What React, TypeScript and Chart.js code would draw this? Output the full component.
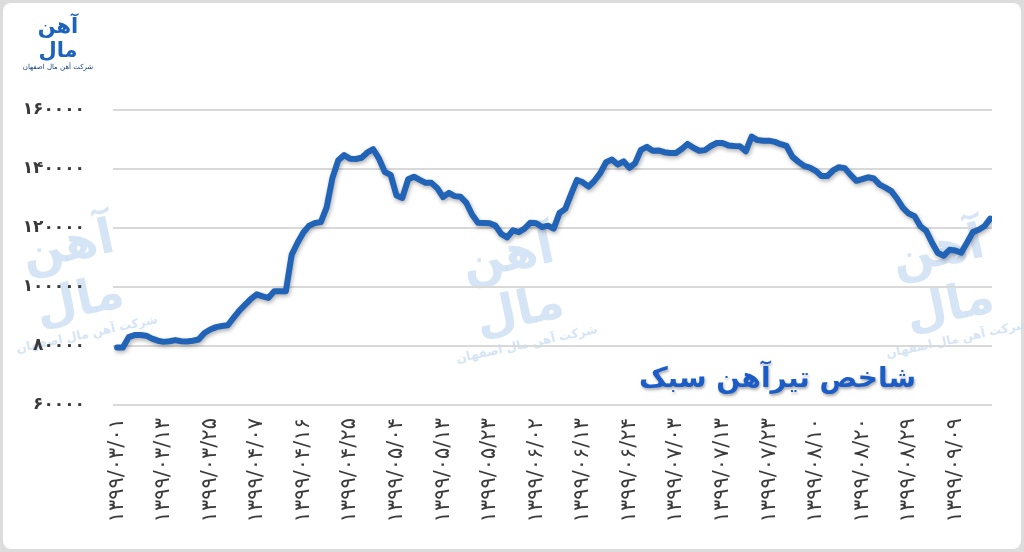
import React, { useEffect, useRef } from "react";
import { Chart, registerables } from "chart.js";

Chart.register(...registerables);

// Tick labels on the date axis (one every 8 trading days)
const tickLabels: string[] = [
  "۱۳۹۹/۰۳/۰۱", "۱۳۹۹/۰۳/۱۳", "۱۳۹۹/۰۳/۲۵", "۱۳۹۹/۰۴/۰۷", "۱۳۹۹/۰۴/۱۶",
  "۱۳۹۹/۰۴/۲۵", "۱۳۹۹/۰۵/۰۴", "۱۳۹۹/۰۵/۱۳", "۱۳۹۹/۰۵/۲۳", "۱۳۹۹/۰۶/۰۲",
  "۱۳۹۹/۰۶/۱۳", "۱۳۹۹/۰۶/۲۴", "۱۳۹۹/۰۷/۰۳", "۱۳۹۹/۰۷/۱۳", "۱۳۹۹/۰۷/۲۳",
  "۱۳۹۹/۰۸/۱۰", "۱۳۹۹/۰۸/۲۰", "۱۳۹۹/۰۸/۲۹", "۱۳۹۹/۰۹/۰۹",
];
const daysPerTick = 8;

// Y axis tick values and their Persian labels
const yTickValues: number[] = [60000, 80000, 100000, 120000, 140000, 160000];
const yTickLabels: string[] = ["۶۰۰۰۰", "۸۰۰۰۰", "۱۰۰۰۰۰", "۱۲۰۰۰۰", "۱۴۰۰۰۰", "۱۶۰۰۰۰"];

// Light section steel index, one value per trading day
const indexValues: number[] = [
  79500, 79500, 83000, 83700, 83700, 83500, 82500, 81800, 81400, 81600,
  82000, 81600, 81500, 81800, 82200, 84400, 85600, 86400, 86800, 87000,
  89500, 92000, 94000, 96000, 97500, 96800, 96300, 98600, 98600, 98600,
  111000, 115000, 118500, 120800, 121700, 122000, 127000, 137000, 143000, 144700,
  143500, 143400, 143800, 145600, 146700, 143500, 139000, 138000, 131000, 130200,
  136500, 137400, 136300, 135300, 135300, 133500, 130500, 131900, 130800, 130600,
  128500, 124500, 121800, 121700, 121600, 120800, 118000, 116800, 119200, 118600,
  119800, 121800, 121600, 120300, 120800, 119800, 125100, 126500, 131500, 136300,
  135500, 134000, 136000, 138600, 142300, 143200, 141500, 142600, 140400, 142000,
  146500, 147500, 146200, 146300, 145700, 145400, 145400, 146800, 148500, 147200,
  146200, 146400, 147800, 148800, 148800, 148000, 147800, 147700, 146000, 151000,
  149800, 149600, 149600, 149200, 148400, 147800, 144200, 142500, 141100, 140500,
  139400, 137600, 137600, 139500, 140600, 140300, 138000, 136000, 136600, 137200,
  136800, 134700, 133700, 132500, 129900, 126800, 124900, 124000, 120600, 119000,
  115000, 111500, 110600, 112600, 112400, 111600, 115000, 118600, 119400, 120600,
  123200,
];

const titleText = "شاخص تیرآهن سبک";
const brandText = "آهن مال";
const companyName = "شرکت آهن مال اصفهان";

const lineShadow = {
  id: "lineShadow",
  beforeDatasetDraw(chart: any) {
    const ctx = chart.ctx;
    ctx.save();
    ctx.shadowColor = "rgba(0,0,0,0.32)";
    ctx.shadowBlur = 4;
    ctx.shadowOffsetX = 1;
    ctx.shadowOffsetY = 2;
  },
  afterDatasetDraw(chart: any) {
    chart.ctx.restore();
  },
};

const watermarkStyle = (left: number, top: number): React.CSSProperties => ({
  position: "absolute",
  left,
  top,
  width: 170,
  textAlign: "center",
  direction: "rtl",
  fontFamily: "'DejaVu Sans', sans-serif",
  fontWeight: "bold",
  color: "rgba(200,220,242,0.75)",
  transform: "rotate(-12deg)",
});

export default function App() {
  const canvasRef = useRef<HTMLCanvasElement | null>(null);

  useEffect(() => {
    document.body.style.margin = "0";
    const canvas = canvasRef.current;
    if (!canvas) return;
    const chart = new Chart(canvas, {
      type: "line",
      data: {
        datasets: [
          {
            data: indexValues.map((v, i) => ({ x: i, y: v })),
            borderColor: "#2163b6",
            borderWidth: 6,
            pointRadius: 0,
            tension: 0,
            borderJoinStyle: "round",
            borderCapStyle: "round",
            fill: false,
          },
        ],
      },
      options: {
        responsive: false,
        animation: false,
        devicePixelRatio: 1,
        layout: { padding: { top: 110, right: 32, bottom: 0, left: 0 } },
        plugins: {
          legend: { display: false },
          tooltip: { enabled: false },
          title: { display: false },
        },
        scales: {
          x: {
            type: "linear",
            min: -0.7,
            max: 150.3,
            grid: { display: false, drawTicks: false },
            border: { display: false },
            afterBuildTicks: (scale: any) => {
              scale.ticks = tickLabels.map((_, i) => ({ value: i * daysPerTick }));
            },
            afterFit: (scale: any) => {
              scale.height = 147;
            },
            ticks: {
              autoSkip: false,
              maxRotation: 90,
              minRotation: 90,
              padding: 13,
              color: "#3c3c3c",
              font: { family: "'DejaVu Sans'", size: 21 },
              callback: (v: any) => tickLabels[Math.round(Number(v) / daysPerTick)] ?? "",
            },
          },
          y: {
            min: 60000,
            max: 160000,
            grid: { color: "#d9d9d9", lineWidth: 2, drawTicks: false },
            border: { display: false },
            afterBuildTicks: (scale: any) => {
              scale.ticks = yTickValues.map((value) => ({ value }));
            },
            afterFit: (scale: any) => {
              scale.width = 113;
            },
            ticks: {
              padding: 28,
              color: "#3a3a3a",
              font: { family: "'DejaVu Sans'", size: 17, weight: "bold" },
              callback: (v: any) => yTickLabels[yTickValues.indexOf(Number(v))] ?? "",
            },
          },
        },
      },
      plugins: [lineShadow],
    } as any);
    return () => chart.destroy();
  }, []);

  return (
    <div style={{ position: "relative", width: 1024, height: 552, background: "#dcdcdc", overflow: "hidden" }}>
      <div
        style={{
          position: "absolute",
          left: 3,
          top: 3,
          right: 3,
          bottom: 3,
          background: "#ffffff",
          borderRadius: 8,
        }}
      />
      <div style={watermarkStyle(-10, 215)}>
        <div style={{ fontSize: 48, lineHeight: "56px" }}>{brandText}</div>
        <div style={{ fontSize: 12, lineHeight: "16px" }}>{companyName}</div>
      </div>
      <div style={watermarkStyle(430, 225)}>
        <div style={{ fontSize: 48, lineHeight: "56px" }}>{brandText}</div>
        <div style={{ fontSize: 12, lineHeight: "16px" }}>{companyName}</div>
      </div>
      <div style={watermarkStyle(860, 220)}>
        <div style={{ fontSize: 48, lineHeight: "56px" }}>{brandText}</div>
        <div style={{ fontSize: 12, lineHeight: "16px" }}>{companyName}</div>
      </div>
      <canvas ref={canvasRef} width={1024} height={552} style={{ position: "absolute", left: 0, top: 0 }} />
      <div
        style={{
          position: "absolute",
          left: 18,
          top: 14,
          width: 80,
          textAlign: "center",
          direction: "rtl",
          fontFamily: "'DejaVu Sans', sans-serif",
          color: "#1b63bd",
          fontWeight: "bold",
          whiteSpace: "nowrap",
        }}
      >
        <div style={{ fontSize: 21, lineHeight: "24px" }}>آهن</div>
        <div style={{ fontSize: 21, lineHeight: "24px" }}>مال</div>
        <div style={{ fontSize: 7, lineHeight: "10px", color: "#123f7a", fontWeight: "normal" }}>{companyName}</div>
      </div>
      <div
        style={{
          position: "absolute",
          left: 630,
          top: 358,
          width: 295,
          textAlign: "center",
          direction: "rtl",
          fontFamily: "'DejaVu Sans', sans-serif",
          fontWeight: "bold",
          fontSize: 28,
          lineHeight: "40px",
          color: "#1c5cc6",
          textShadow: "1px 2px 3px rgba(0,0,0,0.35)",
          whiteSpace: "nowrap",
        }}
      >
        {titleText}
      </div>
    </div>
  );
}
